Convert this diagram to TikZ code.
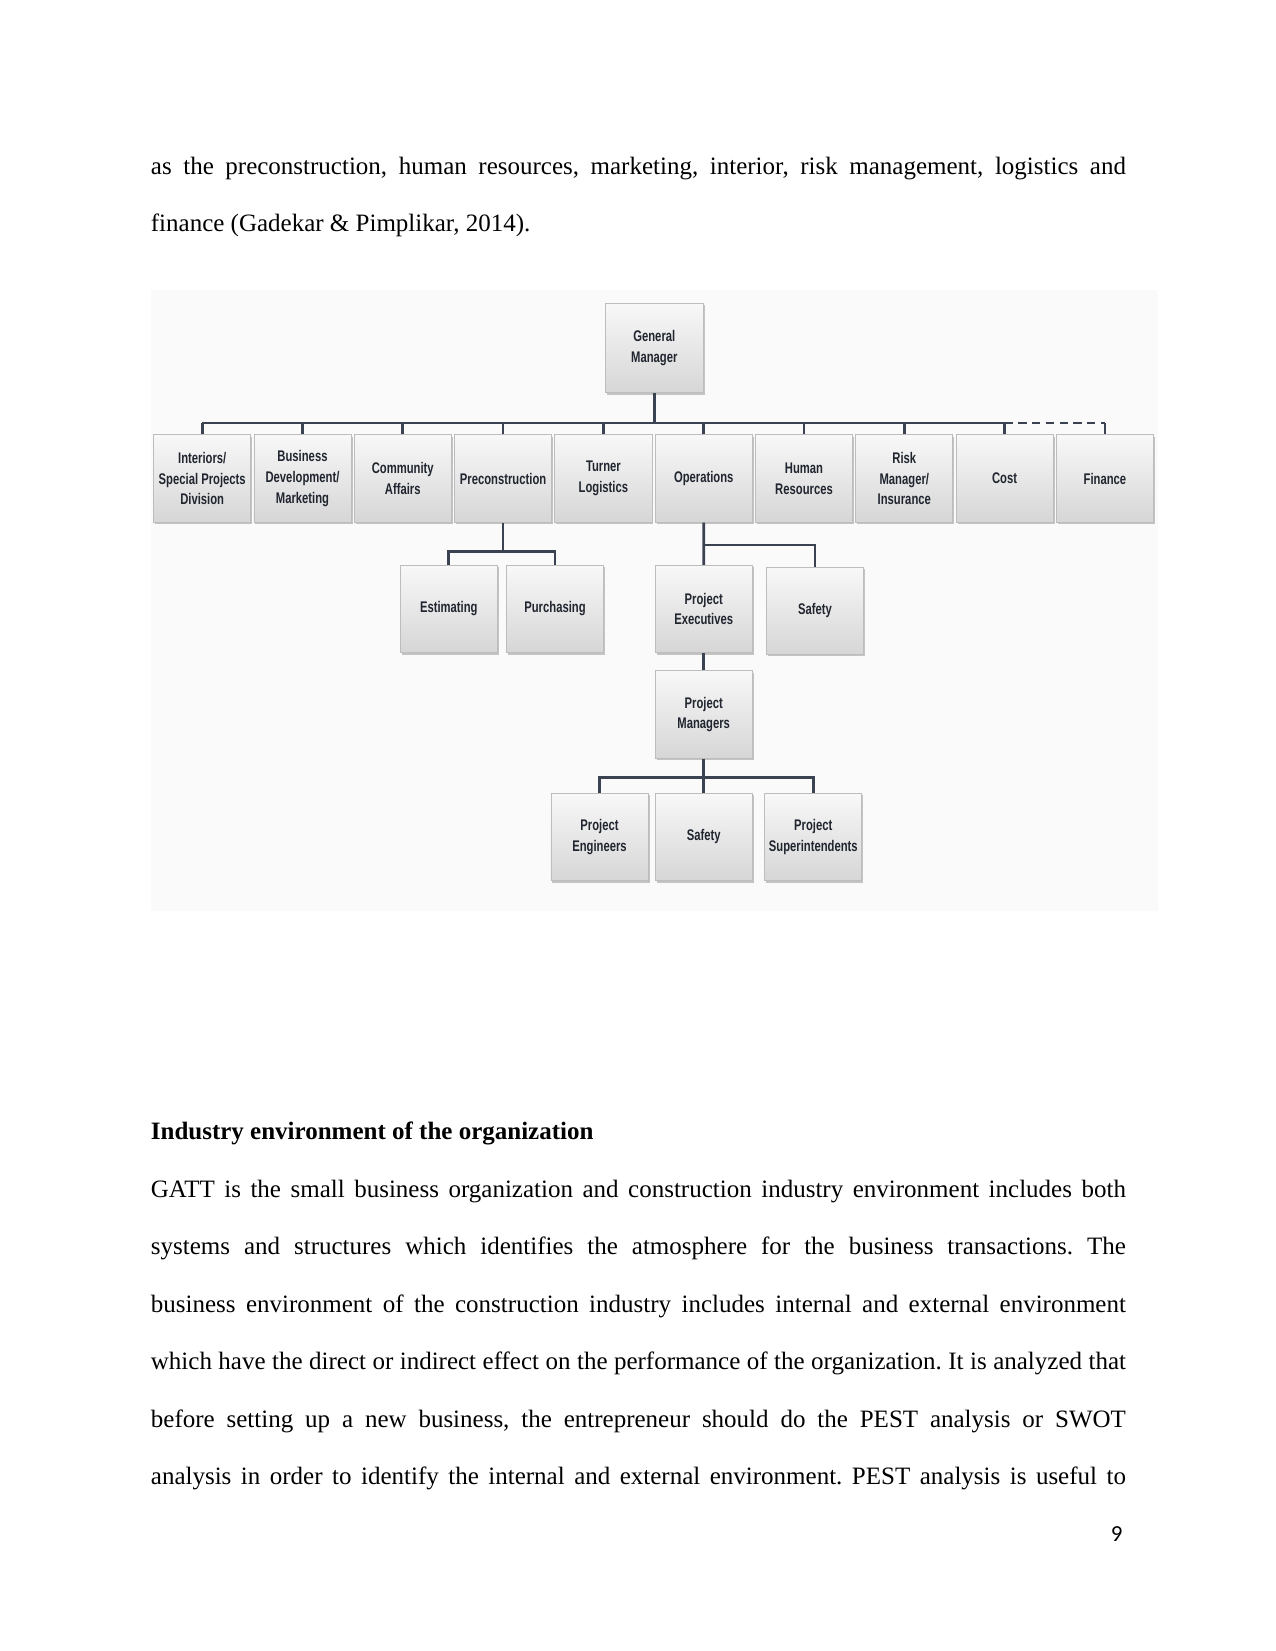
\documentclass[tikz,border=0pt]{standalone}
\usepackage{fontspec}
\setmainfont{Liberation Serif}
\newfontfamily\chartfont[FakeStretch=0.73]{Liberation Sans}
\newfontfamily\pagenumfont{Carlito}
\usetikzlibrary{positioning,shadows}
\definecolor{linkgray}{HTML}{3B4352}
\definecolor{boxtext}{HTML}{20252F}
\definecolor{boxedge}{HTML}{BDBDBD}
\definecolor{boxtop}{HTML}{F8F8F8}
\definecolor{boxbot}{HTML}{D6D6D6}
\definecolor{chartbg}{HTML}{FAFAFA}
\newcommand\fullline[1]{\hbox to 468pt{#1}}
\tikzset{
  orgbox/.style={draw=boxedge, line width=0.4pt, top color=boxtop, bottom color=boxbot,
    minimum width=46.6pt, minimum height=42pt, inner xsep=0.3pt, align=center,
    font=\chartfont\bfseries\fontsize{7.4}{10}\selectfont, text=boxtext,
    drop shadow={shadow xshift=0.7pt, shadow yshift=-0.9pt, fill=black, opacity=0.22}},
  link/.style={draw=linkgray, line width=1.3pt},
  bodytext/.style={anchor=base west, inner sep=0pt, font=\fontsize{12}{14}\selectfont\frenchspacing},
}

\begin{document}
\begin{tikzpicture}[x=0.48pt,y=-0.48pt]
  \fill[white] (0,0) rectangle (1275,1651);
  \useasboundingbox (0,0) rectangle (1275,1651);

  % text above the chart
  \node[bodytext] (t1) at (150.5,175) {\fullline{as the preconstruction, human resources, marketing, interior, risk management, logistics and}};
  \node[bodytext] (t2) at (150.5,232) {finance (Gadekar \& Pimplikar, 2014).};

  % chart
  \fill[chartbg] (150.5,289.5) rectangle (1158,910.7);
  \node[orgbox, minimum width=47pt, minimum height=43pt] (gm) at (654.3,348) {General\\Manager};
  \foreach \i/\lab in {1/{Interiors/\\Special Projects\\Division}, 2/{Business\\Development/\\Marketing},
      3/{Community\\Affairs}, 4/Preconstruction, 5/{Turner\\Logistics}, 6/Operations,
      7/{Human\\Resources}, 8/{Risk\\Manager/\\Insurance}, 9/Cost, 10/Finance} {
    \node[orgbox] (b\i) at ({202.2+100.3*(\i-1)},478.5) {\lab};
  }
  \node[orgbox] (est) at (448.8,609) {Estimating};
  \node[orgbox] (pur) at (555,609) {Purchasing};
  \node[orgbox] (pe) at (703.7,609) {Project\\Executives};
  \node[orgbox] (saf1) at (815,610.8) {Safety};
  \node[orgbox] (pm) at (703.7,714.5) {Project\\Managers};
  \node[orgbox] (peng) at (599.5,837) {Project\\Engineers};
  \node[orgbox] (saf2) at (703.7,837) {Safety};
  \node[orgbox] (psup) at (813.3,837) {Project\\Superintendents};

  \coordinate (bus) at (654.3,423);
  \coordinate (prebar) at (503,551.7);
  \coordinate (opsbar) at (703.7,545);
  \coordinate (pmbar) at (703.7,777.3);

  \draw[link] (gm.south) -- (gm.south |- bus);
  \draw[link] (b1.north |- bus) -- (b9.north |- bus);
  \foreach \i in {1,...,9} {
    \draw[link] (b\i.north) -- (b\i.north |- bus);
  }
  \draw[link, dash pattern=on 4pt off 2.6pt] (b9.north |- bus) -- (b10.north |- bus);
  \draw[link] (b10.north |- bus) -- (b10.north);
  \draw[link] (b4.south) -- (b4.south |- prebar);
  \draw[link] (est.north) -- (est.north |- prebar) -- (pur.north |- prebar) -- (pur.north);
  \draw[link] (b6.south) -- (pe.north);
  \draw[link] (b6.south |- opsbar) -- (saf1.north |- opsbar) -- (saf1.north);
  \draw[link] (pe.south) -- (pm.north);
  \draw[link] (pm.south) -- (saf2.north);
  \draw[link] (peng.north) -- (peng.north |- pmbar) -- (psup.north |- pmbar) -- (psup.north);

  % text below the chart
  \node[bodytext, font=\bfseries\fontsize{12}{14}\selectfont] (head) at (150.5,1139) {Industry environment of the organization};
  \node[bodytext] (p1) at (150.5,1197) {\fullline{GATT is the small business organization and construction industry environment includes both}};
  \node[bodytext] (p2) at (150.5,1254.5) {\fullline{systems and structures which identifies the atmosphere for the business transactions. The}};
  \node[bodytext] (p3) at (150.5,1312) {\fullline{business environment of the construction industry includes internal and external environment}};
  \node[bodytext] (p4) at (150.5,1369.5) {\fullline{which have the direct or indirect effect on the performance of the organization. It is analyzed that}};
  \node[bodytext] (p5) at (150.5,1427) {\fullline{before setting up a new business, the entrepreneur should do the PEST analysis or SWOT}};
  \node[bodytext] (p6) at (150.5,1484.5) {\fullline{analysis in order to identify the internal and external environment. PEST analysis is useful to}};
  \node[anchor=base east, inner sep=0pt, font=\pagenumfont\fontsize{11}{13}\selectfont] (pagenum) at (1123,1541) {9};
\end{tikzpicture}
\end{document}
